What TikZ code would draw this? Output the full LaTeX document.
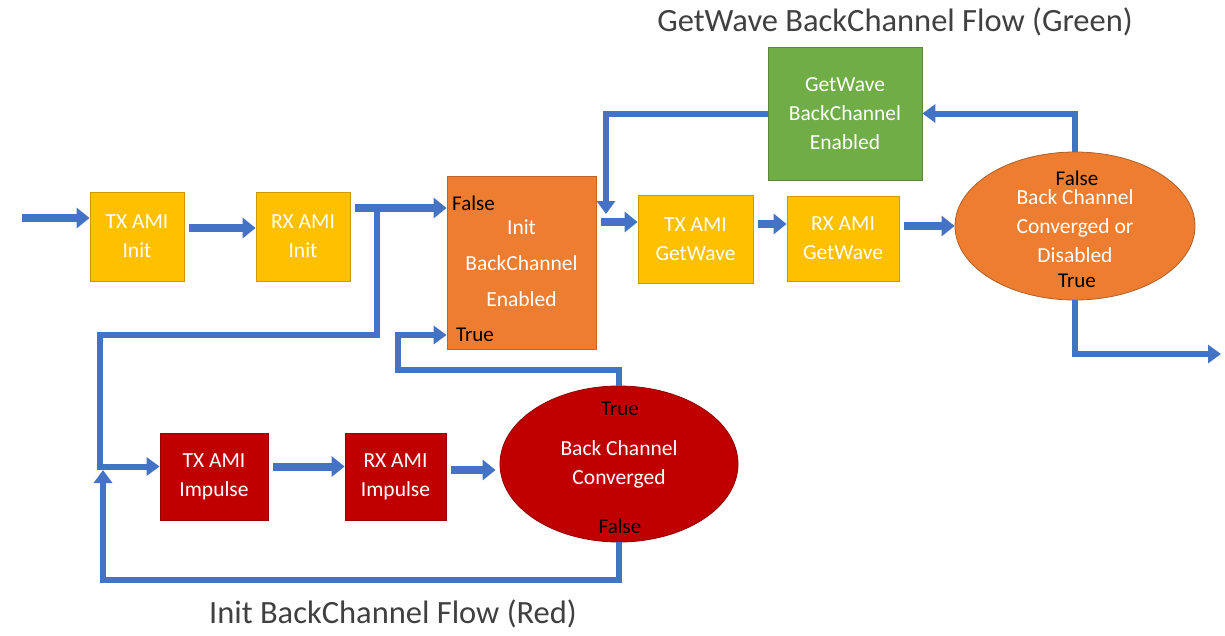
\documentclass[tikz,border=0pt]{standalone}
\usepackage{fontspec}
\setmainfont{Carlito}
\usetikzlibrary{arrows.meta,shapes.geometric,calc}
\definecolor{amber}{HTML}{FFC000}
\definecolor{orng}{HTML}{ED7D31}
\definecolor{grn}{HTML}{70AD47}
\definecolor{dred}{HTML}{C00000}
\definecolor{flow}{HTML}{4472C4}
\definecolor{ttl}{HTML}{404040}
\begin{document}
\begin{tikzpicture}[x=1pt,y=-1pt,
  box/.style={rectangle, draw=#1!80!black, line width=0.8pt, fill=#1, text=white,
    align=center, inner sep=0pt, font=\fontsize{21.5}{29}\selectfont},
  oval/.style={ellipse, draw=#1!75!black, line width=0.8pt, fill=#1, text=white,
    align=center, inner sep=0pt, font=\fontsize{21.5}{29}\selectfont},
  lbl/.style={text=black, inner sep=0pt, font=\fontsize{21}{24}\selectfont},
  arr/.style={draw=flow, line width=8pt, shorten <=5pt, -{Triangle[width=20pt,length=13pt]}},
  looparr/.style={draw=flow, line width=6pt, -{Triangle[width=18pt,length=13pt]}},
  ttlstyle/.style={text=ttl, inner sep=0pt, font=\fontsize{32.5}{36}\selectfont}]
\useasboundingbox (0,0) rectangle (1225,635);
% nodes
\node[box=amber, minimum width=94pt, minimum height=89pt] (txi) at (137,236.5) {TX AMI\\Init};
\node[box=amber, minimum width=94pt, minimum height=89pt] (rxi) at (303,236.5) {RX AMI\\Init};
\node[box=orng, minimum width=149pt, minimum height=173pt, font=\fontsize{21.5}{36}\selectfont] (ibc) at (521.5,263) {Init\\BackChannel\\Enabled};
\node[box=amber, minimum width=115pt, minimum height=88pt] (txg) at (695.5,239) {TX AMI\\GetWave};
\node[box=amber, minimum width=112pt, minimum height=85pt] (rxg) at (843,238.5) {RX AMI\\GetWave};
\node[box=grn, minimum width=154pt, minimum height=133pt] (gbc) at (845,113.5) {GetWave\\BackChannel\\Enabled};
\node[oval=orng, minimum width=240pt, minimum height=148pt] (oe) at (1075,226) {Back Channel\\Converged or\\Disabled};
\node[box=dred, minimum width=108pt, minimum height=87pt] (txp) at (214,476.5) {TX AMI\\Impulse};
\node[box=dred, minimum width=101pt, minimum height=87pt] (rxp) at (395.5,476.5) {RX AMI\\Impulse};
\node[oval=dred, minimum width=238pt, minimum height=156pt] (rce) at (619,464) {Back Channel\\Converged};
% coordinates
\coordinate (start) at (22,218);
\coordinate (j1) at (377,208);
\coordinate (c1) at (100,335);
\coordinate (fb) at (103,580);
\coordinate (fe) at (103,470);
\coordinate (t1) at (398,370);
\coordinate (ibcT) at ($(ibc.west)+(0,72)$);
\coordinate (g2) at (606,214);
\coordinate (outc) at (1221,354);
\coordinate (m0) at ($(txi.east)+(0,-8.5)$);
\coordinate (m1) at ($(rxi.east)+(0,-28.5)$);
\coordinate (m2) at ($(ibc.east)+(0,-41)$);
\coordinate (m3) at ($(txg.east)+(0,-15)$);
\coordinate (m4) at ($(rxg.east)+(0,-12.5)$);
\coordinate (m5) at ($(txp.east)+(0,-10)$);
\coordinate (m6) at ($(rxp.east)+(0,-6.5)$);
\coordinate (m7) at ($(txp.west)+(0,-10)$);
% connectors
\draw[arr, shorten <=0pt] (start) -- (txi.west |- start);
\draw[arr] (m0) -- (rxi.west |- m0);
\draw[arr] (m1) -- (ibc.west |- m1);
\draw[looparr] (j1) |- (c1) |- (m7);
\draw[looparr] (rce.south) |- (fb) -- (fe);
\draw[looparr] (rce.north) |- (t1) |- (ibcT);
\draw[arr] (m2) -- (txg.west |- m2);
\draw[looparr] (gbc.west) -| (g2);
\draw[arr] (m3) -- (rxg.west |- m3);
\draw[arr] (m4) -- (oe.west |- m4);
\draw[looparr] (oe.north) |- (gbc.east);
\draw[looparr] (oe.south) |- (outc);
\draw[arr] (m5) -- (rxp.west |- m5);
\draw[arr] (m6) -- ([xshift=-4pt]rce.west |- m6);
% labels
\node[lbl, anchor=west] (ibcF) at (452,203) {False};
\node[lbl, anchor=west] (ibcTr) at (456,335) {True};
\node[lbl] (oeF) at (1077,178) {False};
\node[lbl] (oeT) at (1077,281) {True};
\node[lbl] (rceT) at (620,409) {True};
\node[lbl] (rceF) at (620,526) {False};
\node[ttlstyle] (t_green) at (895,22) {GetWave BackChannel Flow (Green)};
\node[ttlstyle] (t_red) at (393,614) {Init BackChannel Flow (Red)};
\end{tikzpicture}
\end{document}
